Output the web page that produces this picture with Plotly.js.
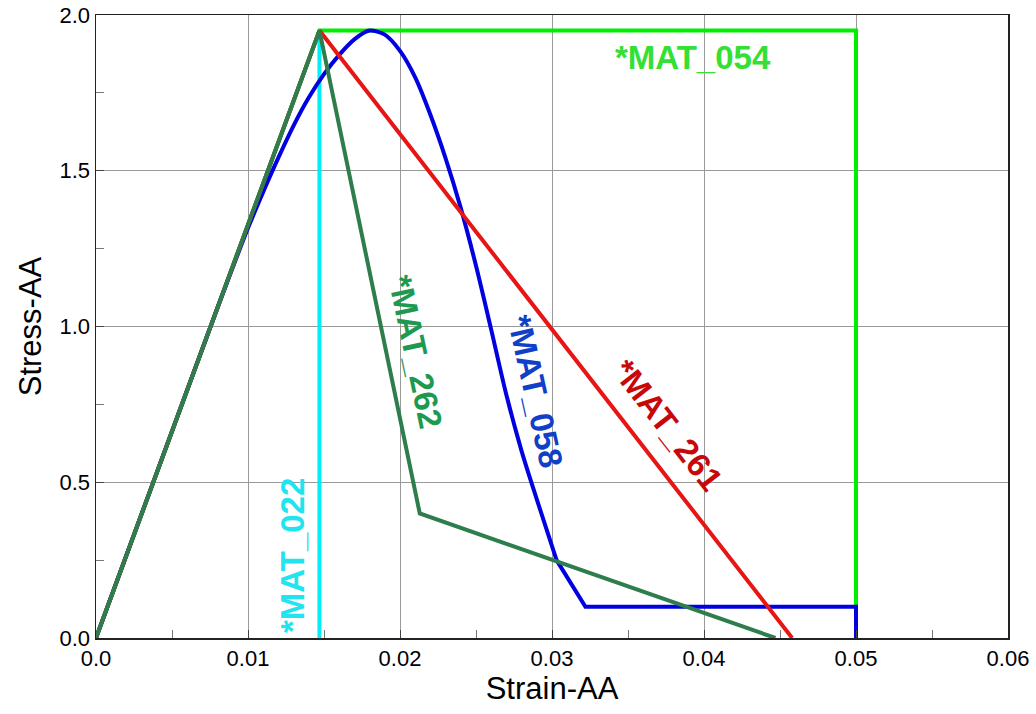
<!DOCTYPE html>
<html>
<head>
<meta charset="utf-8">
<script src="https://cdn.plot.ly/plotly-3.0.1.min.js"></script>
<style>html,body{margin:0;padding:0;background:#fff;}#chart{width:1036px;height:714px;}</style>
</head>
<body>
<div id="chart"></div>
<script>
// Data (strain, stress)
const mat022_x = [0, 0.0147, 0.0147];
const mat022_y = [0, 1.95, 0];

const mat054_x = [0, 0.0147, 0.050, 0.050];
const mat054_y = [0, 1.95, 1.95, 0];

const mat058_x = [0, 0.004, 0.008, 0.009, 0.010, 0.011, 0.012, 0.013, 0.014, 0.015, 0.016, 0.017, 0.018, 0.019, 0.020, 0.021, 0.022, 0.023, 0.024, 0.025, 0.026, 0.027, 0.028, 0.029, 0.0303, 0.0322, 0.0500, 0.0500];
const mat058_y = [0, 0.531, 1.061, 1.190, 1.316, 1.432, 1.542, 1.645, 1.735, 1.810, 1.872, 1.922, 1.950, 1.937, 1.885, 1.800, 1.680, 1.540, 1.380, 1.195, 0.990, 0.780, 0.600, 0.445, 0.250, 0.100, 0.100, 0];
const mat058_knee = 24; // index where the smooth softening curve ends

const mat261_x = [0, 0.0147, 0.0458];
const mat261_y = [0, 1.95, 0];

const mat262_x = [0, 0.0147, 0.0213, 0.0447];
const mat262_y = [0, 1.95, 0.40, 0];

const xTickVals = [0, 0.01, 0.02, 0.03, 0.04, 0.05, 0.06];
const xTickText = ['0.0', '0.01', '0.02', '0.03', '0.04', '0.05', '0.06'];
const yTickVals = [0, 0.5, 1.0, 1.5, 2.0];
const yTickText = ['0.0', '0.5', '1.0', '1.5', '2.0'];

const labels = ['*MAT_022', '*MAT_054', '*MAT_058', '*MAT_261', '*MAT_262'];

const FONT = 'Liberation Sans, Arial, sans-serif';
const BLUE = '#0000E0';

const traces = [
  {x: mat022_x, y: mat022_y, name: labels[0], mode: 'lines', line: {color: '#00EEF5', width: 4}},
  {x: mat054_x, y: mat054_y, name: labels[1], mode: 'lines', line: {color: '#00EE00', width: 4}},
  {x: mat058_x.slice(0, mat058_knee + 1), y: mat058_y.slice(0, mat058_knee + 1), name: labels[2], mode: 'lines', line: {color: BLUE, width: 4, shape: 'spline', smoothing: 0.8}},
  {x: mat058_x.slice(mat058_knee), y: mat058_y.slice(mat058_knee), name: labels[2], mode: 'lines', line: {color: BLUE, width: 4}},
  {x: mat261_x, y: mat261_y, name: labels[3], mode: 'lines', line: {color: '#E81515', width: 4}},
  {x: mat262_x, y: mat262_y, name: labels[4], mode: 'lines', line: {color: '#2E7D4C', width: 4}}
];

const annFont = (c) => ({family: FONT, size: 33, color: c, weight: 'bold'});

const layout = {
  width: 1036, height: 714,
  margin: {l: 96, r: 28, t: 15, b: 76},
  paper_bgcolor: '#fff', plot_bgcolor: '#fff',
  showlegend: false,
  font: {family: FONT, color: '#000'},
  xaxis: {
    range: [0, 0.06], tickvals: xTickVals, ticktext: xTickText,
    showgrid: true, gridcolor: '#9a9a9a', gridwidth: 1,
    showline: true, linecolor: '#222', linewidth: 1.5, mirror: true,
    ticks: 'inside', ticklen: 8, tickcolor: '#444',
    minor: {dtick: 0.005, ticks: 'inside', ticklen: 8, tickcolor: '#777', showgrid: false},
    zeroline: false,
    tickfont: {size: 22, family: FONT, color: '#000'},
    title: {text: 'Strain-AA', font: {size: 31, family: FONT, color: '#000'}, standoff: 6}
  },
  yaxis: {
    range: [0, 2.0], tickvals: yTickVals, ticktext: yTickText,
    showgrid: true, gridcolor: '#9a9a9a', gridwidth: 1,
    showline: true, linecolor: '#222', linewidth: 1.5, mirror: true,
    ticks: 'inside', ticklen: 8, tickcolor: '#444',
    minor: {dtick: 0.25, ticks: 'inside', ticklen: 8, tickcolor: '#777', showgrid: false},
    zeroline: false,
    tickfont: {size: 22, family: FONT, color: '#000'},
    title: {text: 'Stress-AA', font: {size: 31, family: FONT, color: '#000'}, standoff: 8}
  },
  annotations: [
    {x: 0.01296, y: 0.2665, xref: 'x', yref: 'y', text: labels[0], showarrow: false, textangle: -90, xanchor: 'center', yanchor: 'middle', font: annFont('#22E4EE')},
    {x: 0.03930, y: 1.8626, xref: 'x', yref: 'y', text: labels[1], showarrow: false, textangle: 0, xanchor: 'center', yanchor: 'middle', font: annFont('#33E033')},
    {x: 0.02888, y: 0.790, xref: 'x', yref: 'y', text: labels[2], showarrow: false, textangle: 77.5, xanchor: 'center', yanchor: 'middle', font: annFont('#1040C8')},
    {x: 0.03757, y: 0.684, xref: 'x', yref: 'y', text: labels[3], showarrow: false, textangle: 52, xanchor: 'center', yanchor: 'middle', font: annFont('#C80808')},
    {x: 0.02105, y: 0.918, xref: 'x', yref: 'y', text: labels[4], showarrow: false, textangle: 78, xanchor: 'center', yanchor: 'middle', font: annFont('#1E9A50')}
  ]
};

Plotly.newPlot('chart', traces, layout, {staticPlot: true, displayModeBar: false});
</script>
</body>
</html>
